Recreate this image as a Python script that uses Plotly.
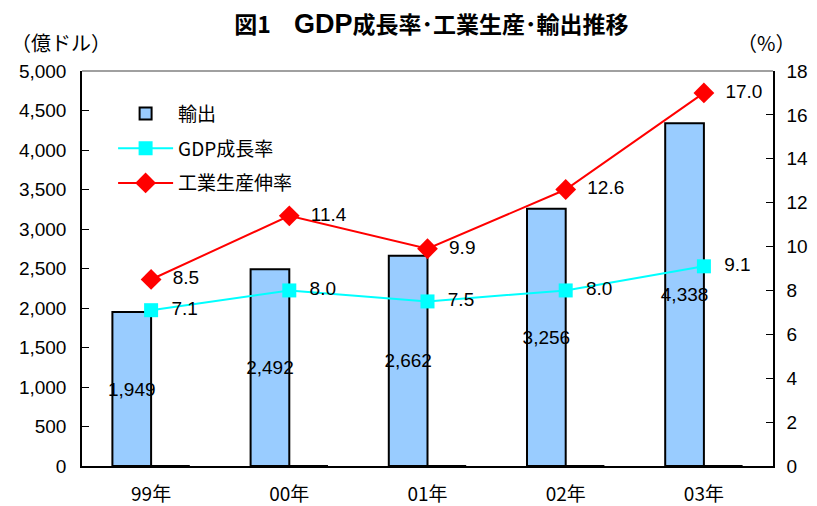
import plotly.graph_objects as go

years = ["99年", "00年", "01年", "02年", "03年"]
exports = [1949, 2492, 2662, 3256, 4338]
dummy = [0, 0, 0, 0, 0]
gdp = [7.1, 8.0, 7.5, 8.0, 9.1]
ind = [8.5, 11.4, 9.9, 12.6, 17.0]

export_labels = [f"{v:,}" for v in exports]
pad = "\u00a0\u00a0"

LAT = "Liberation Sans, Arial, sans-serif"
JP = "Noto Sans CJK JP, sans-serif"

fig = go.Figure()
fig.add_trace(go.Bar(
    x=years, y=exports, name="輸出", legendgroup="g1",
    marker=dict(color="#99CCFF", line=dict(color="black", width=2)),
    text=export_labels, textposition="inside", insidetextanchor="middle",
    textangle=0, constraintext="none",
    textfont=dict(family=LAT, size=19, color="black"),
    offsetgroup="a", cliponaxis=False,
))
fig.add_trace(go.Bar(
    x=years, y=dummy, name="dummy", showlegend=False,
    marker=dict(color="black", line=dict(color="black", width=2)),
    offsetgroup="b",
))
fig.add_trace(go.Scatter(
    x=years, y=gdp, name="GDP成長率", yaxis="y2", mode="lines+markers+text",
    legendgroup="g2",
    line=dict(color="#00FFFF", width=2),
    marker=dict(symbol="square", size=14, color="#00FFFF"),
    text=[pad + f"{v:.1f}" for v in gdp], textposition="middle right",
    textfont=dict(family=LAT, size=19, color="black"),
))
fig.add_trace(go.Scatter(
    x=years, y=ind, name="工業生産伸率", yaxis="y2", mode="lines+markers+text",
    legendgroup="g3",
    line=dict(color="#FF0000", width=2),
    marker=dict(symbol="diamond", size=16, color="#FF0000"),
    text=[pad + f"{v:.1f}" for v in ind], textposition="middle right",
    textfont=dict(family=LAT, size=19, color="black"),
))

fig.update_layout(
    width=817, height=506,
    margin=dict(l=82, r=44, t=71, b=40),
    paper_bgcolor="white", plot_bgcolor="white",
    barmode="group", bargap=0.44, bargroupgap=0,
    uniformtext=dict(minsize=19, mode="show"),
    showlegend=True,
    legend=dict(x=0.045, y=0.94, xanchor="left", yanchor="top",
                font=dict(family=JP, size=19, color="black"),
                bgcolor="rgba(0,0,0,0)", tracegroupgap=7, itemwidth=55),
    xaxis=dict(
        type="category", showline=True, linecolor="black", linewidth=1.5,
        ticks="inside", ticklen=0, showgrid=False, ticklabelstandoff=10,
        automargin=False,
        tickfont=dict(family=JP, size=19, color="black"),
    ),
    yaxis=dict(
        range=[0, 5000], dtick=500, tickformat=",d",
        showline=True, linecolor="black", linewidth=1.5,
        ticks="inside", ticklen=7, tickcolor="black", showgrid=False,
        ticklabelstandoff=10, automargin=False,
        tickfont=dict(family=LAT, size=19, color="black"), zeroline=False,
    ),
    yaxis2=dict(
        range=[0, 18], dtick=2, overlaying="y", side="right",
        showline=True, linecolor="black", linewidth=1.5,
        ticks="inside", ticklen=7, tickcolor="black", showgrid=False,
        ticklabelstandoff=8, automargin=False,
        tickfont=dict(family=LAT, size=19, color="black"), zeroline=False,
    ),
    title=dict(text="<b>図1　<span style='font-family:Liberation Sans, Arial;font-size:27px'>GDP</span>成長率･工業生産･輸出推移</b>",
               x=0.528, xanchor="center", y=0.95, yanchor="middle",
               font=dict(family=JP, size=23, color="black")),
    shapes=[dict(type="line", xref="paper", yref="paper", x0=0, x1=1, y0=1, y1=1,
                 line=dict(color="#808080", width=1.5))],
    annotations=[
        dict(text="（億ドル）", xref="paper", yref="paper", x=-0.105, y=1.03,
             xanchor="left", yanchor="bottom", showarrow=False,
             font=dict(family=JP, size=20, color="black")),
        dict(text="（%）", xref="paper", yref="paper", x=1.035, y=1.03,
             xanchor="right", yanchor="bottom", showarrow=False,
             font=dict(family=JP, size=20, color="black")),
    ],
)

fig.write_html("out.html", config={"displayModeBar": False},
               post_script="document.body.style.margin='0';")
